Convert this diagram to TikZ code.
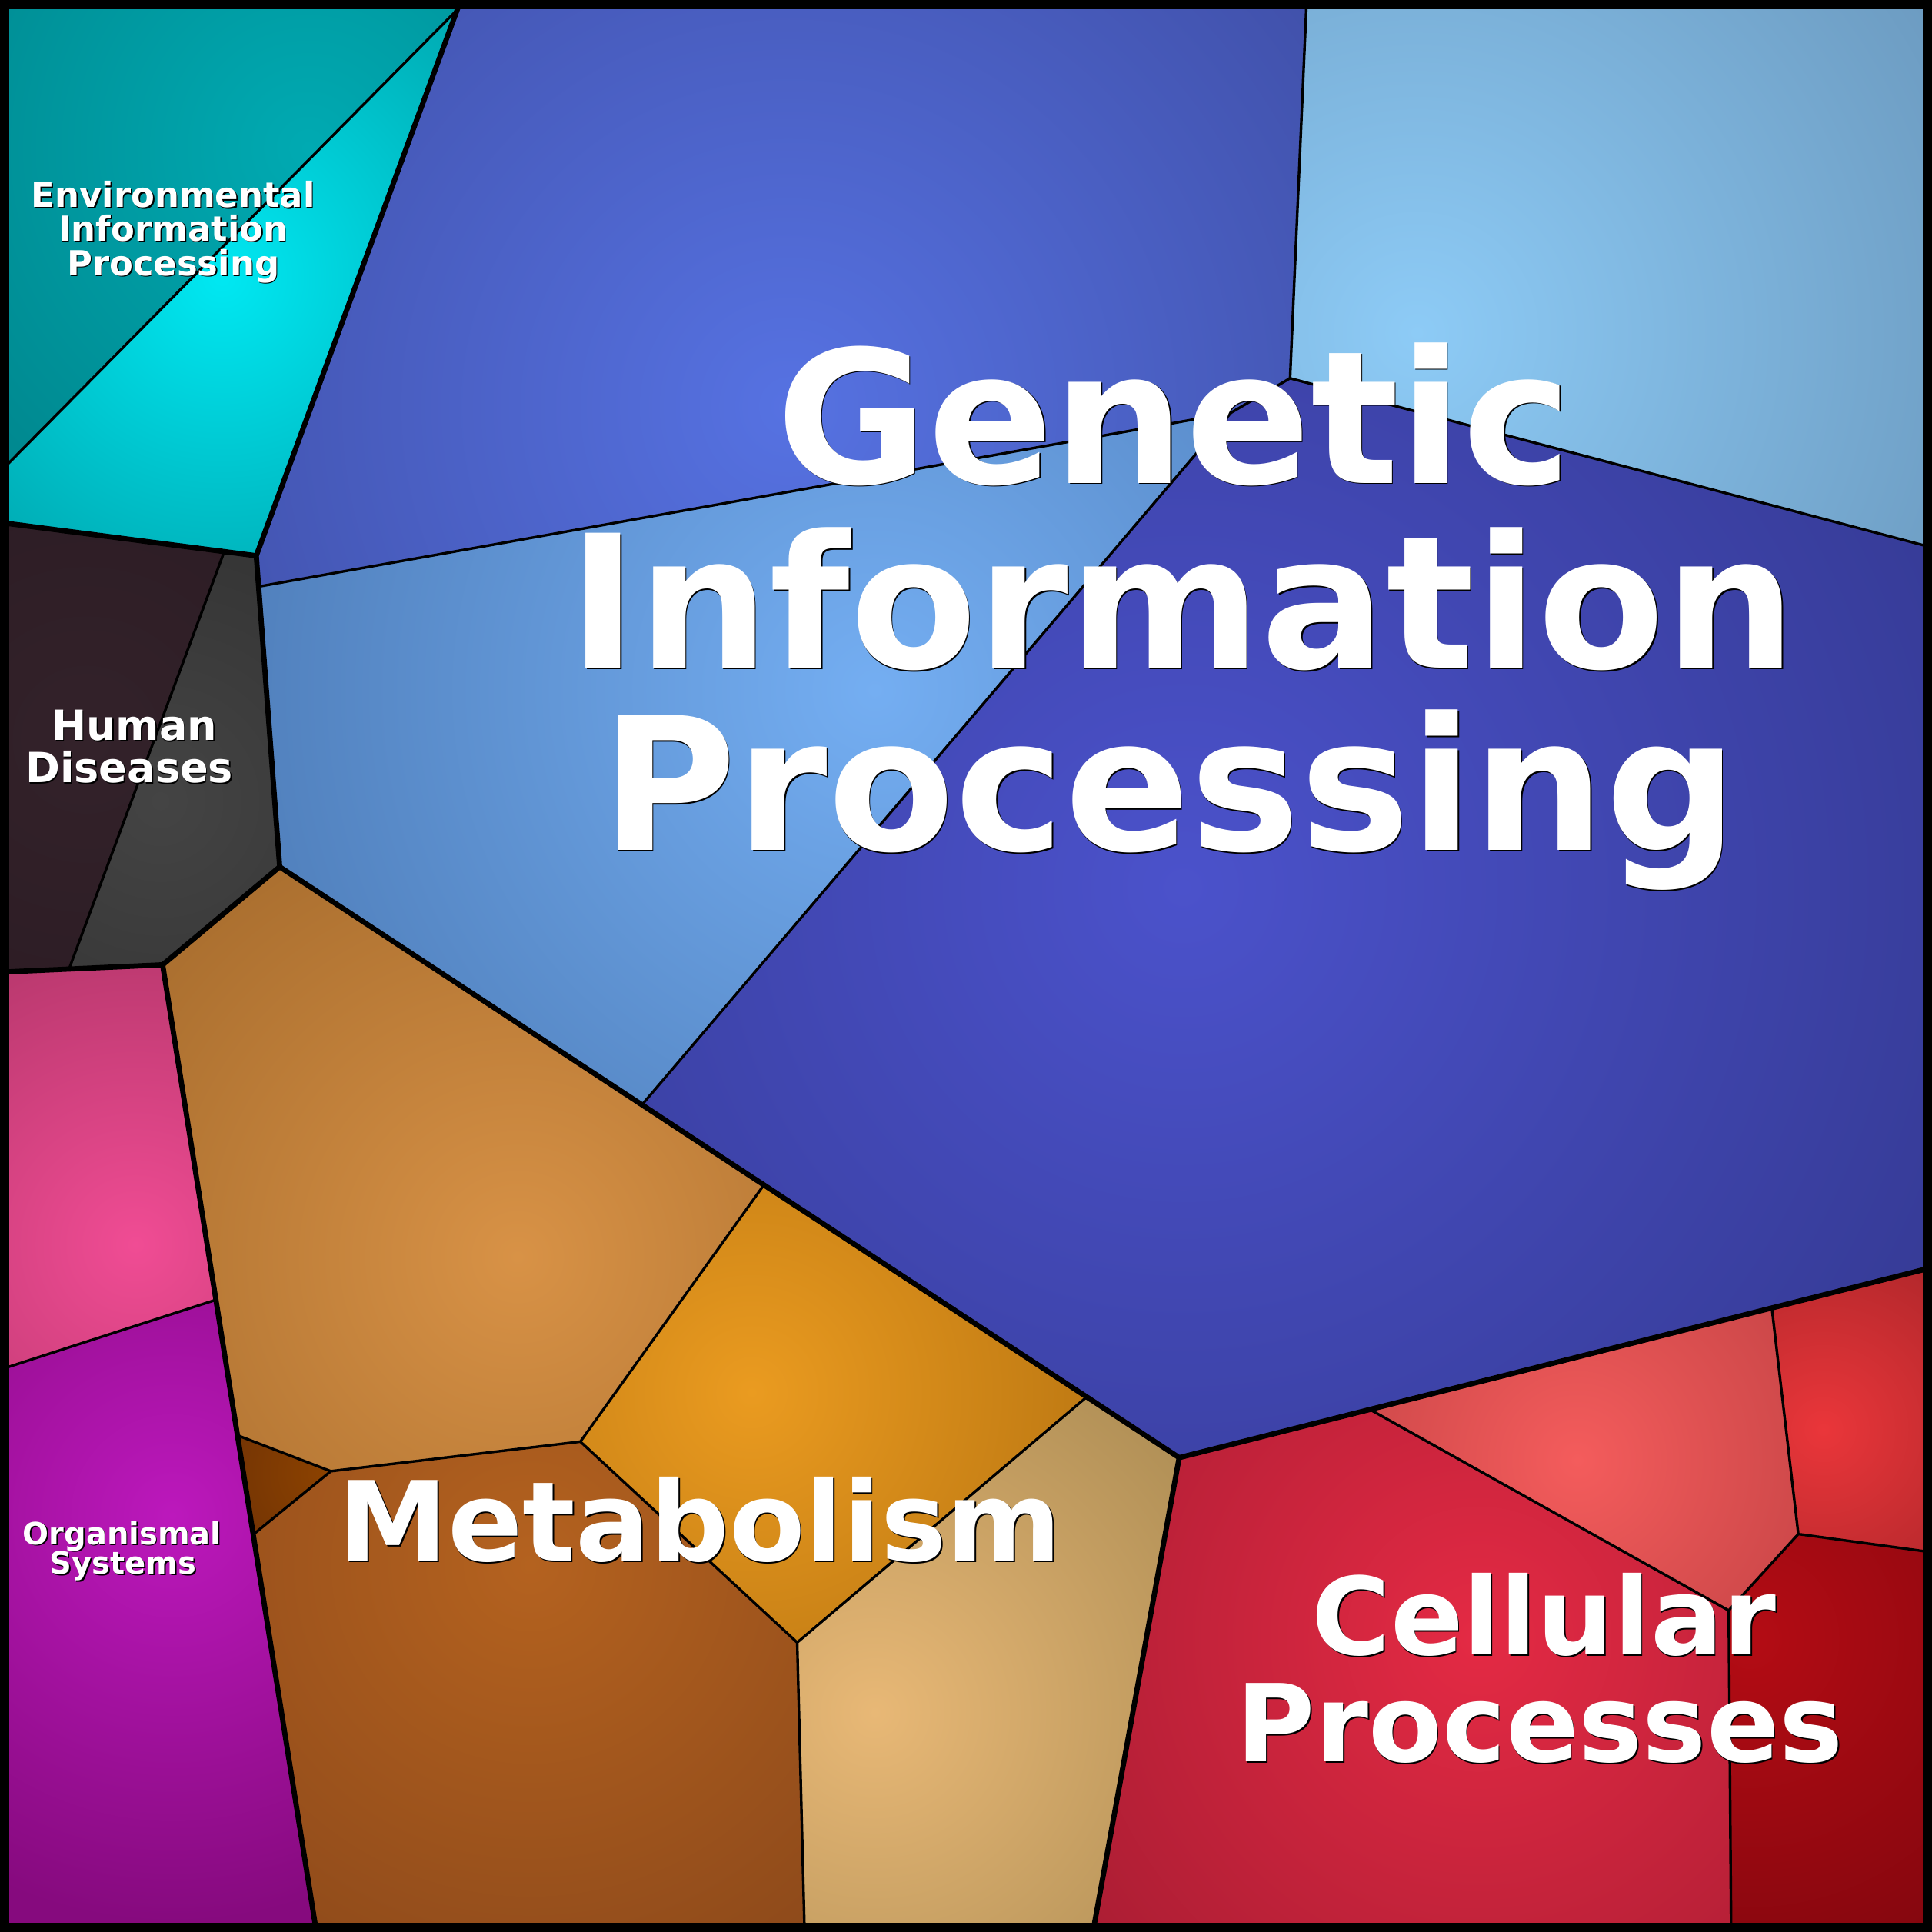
\documentclass[tikz,border=0pt]{standalone}
\usepackage{fontspec}
\newfontfamily\lblfont{DejaVu Sans}
\newcommand{\vcell}[5]{%
  \begin{scope}
    \clip #1;
    \fill[#3] #1;
    \shade[inner color=#2, outer color=#3] #4 circle (#5);
  \end{scope}}
\newcommand{\plabel}[5]{%
  \node[lblshadow, font=\lblfont\bfseries\fontsize{#4}{#4}\selectfont] (#1s) at (#2,#3) {#5};
  \node[lbltext, font=\lblfont\bfseries\fontsize{#4}{#4}\selectfont] (#1) at (#2,#3) {#5};}
\definecolor{e1i}{HTML}{00AAB2}\definecolor{e1o}{HTML}{00878E}
\definecolor{e2i}{HTML}{00E8F2}\definecolor{e2o}{HTML}{00A2AA}
\definecolor{h1i}{HTML}{33222A}\definecolor{h1o}{HTML}{2A1A22}
\definecolor{h2i}{HTML}{444444}\definecolor{h2o}{HTML}{2E2E2E}
\definecolor{g1i}{HTML}{5672E2}\definecolor{g1o}{HTML}{3F4EA6}
\definecolor{g2i}{HTML}{8DCBF6}\definecolor{g2o}{HTML}{6895BA}
\definecolor{g3i}{HTML}{74AEF2}\definecolor{g3o}{HTML}{4F7EBA}
\definecolor{g4i}{HTML}{4B52CB}\definecolor{g4o}{HTML}{353A94}
\definecolor{m1i}{HTML}{D89246}\definecolor{m1o}{HTML}{A46A2C}
\definecolor{m2i}{HTML}{EA9B20}\definecolor{m2o}{HTML}{B57210}
\definecolor{m3i}{HTML}{E8B876}\definecolor{m3o}{HTML}{A68850}
\definecolor{m4i}{HTML}{8C4200}\definecolor{m4o}{HTML}{6C3006}
\definecolor{m5i}{HTML}{B4621F}\definecolor{m5o}{HTML}{88461A}
\definecolor{o1i}{HTML}{F04C94}\definecolor{o1o}{HTML}{AE3466}
\definecolor{o2i}{HTML}{BC18BC}\definecolor{o2o}{HTML}{860A7E}
\definecolor{c1i}{HTML}{E42A44}\definecolor{c1o}{HTML}{A61C32}
\definecolor{c2i}{HTML}{F45C5C}\definecolor{c2o}{HTML}{BA3E40}
\definecolor{c3i}{HTML}{EA363A}\definecolor{c3o}{HTML}{A62428}
\definecolor{c4i}{HTML}{B40C14}\definecolor{c4o}{HTML}{82060E}
\begin{document}
\begin{tikzpicture}[x=0.01cm, y=-0.01cm,
  thinline/.style={line width=0.6pt, line join=round, line cap=round},
  thickline/.style={line width=1.2pt, line join=round, line cap=round},
  lbltext/.style={anchor=base, inner sep=0pt, text=white},
  lblshadow/.style={anchor=base, inner sep=0pt, text=black, xshift=0.3pt, yshift=-0.3pt}]
\useasboundingbox (0,0) rectangle (1568,1568);
% vertices
\coordinate (TL) at (0,0);
\coordinate (TR) at (1568,0);
\coordinate (BR) at (1568,1568);
\coordinate (BL) at (0,1568);
\coordinate (a1) at (374,0);
\coordinate (a2) at (371,8);
\coordinate (a3) at (0,383);
\coordinate (a4) at (0,424);
\coordinate (h0) at (208,451);
\coordinate (h1) at (182,447.6);
\coordinate (h2) at (227,703.5);
\coordinate (h3) at (132,783);
\coordinate (h4) at (56,786.5);
\coordinate (h5) at (0,789);
\coordinate (g1) at (1060.5,0);
\coordinate (g2) at (1047,307);
\coordinate (g3) at (999,335);
\coordinate (g4) at (210,476);
\coordinate (g5) at (1568,444.3);
\coordinate (g6) at (521,896.6);
\coordinate (g7) at (957,1183);
\coordinate (g8) at (1568,1028.7);
\coordinate (m1) at (620,961.6);
\coordinate (m2) at (882,1133.7);
\coordinate (m3) at (471,1170);
\coordinate (m4) at (268.5,1194);
\coordinate (m5) at (193,1165);
\coordinate (m6) at (206,1245);
\coordinate (m7) at (647,1333);
\coordinate (m8) at (653,1568);
\coordinate (m9) at (887,1568);
\coordinate (m10) at (256.8,1568);
\coordinate (o1) at (175,1055);
\coordinate (o2) at (0,1111.6);
\coordinate (c1) at (1112,1144);
\coordinate (c2) at (1438,1061.5);
\coordinate (c3) at (1459.5,1245);
\coordinate (c4) at (1403,1307);
\coordinate (c5) at (1405,1568);
\coordinate (c6) at (1568,1259.8);
% Environmental Information Processing
\vcell{(TL)--(a1)--(a2)--(a3)--cycle}{e1i}{e1o}{(250,120)}{3.6cm}
\vcell{(a2)--(a1)--(h0)--(a4)--(a3)--cycle}{e2i}{e2o}{(180,225)}{3.2cm}
% Human Diseases
\vcell{(a4)--(h1)--(h4)--(h5)--cycle}{h1i}{h1o}{(70,600)}{3.2cm}
\vcell{(h1)--(h0)--(h2)--(h3)--(h4)--cycle}{h2i}{h2o}{(130,650)}{3.2cm}
% Genetic Information Processing
\vcell{(a1)--(g1)--(g2)--(g3)--(g4)--(h0)--cycle}{g1i}{g1o}{(640,330)}{5.8cm}
\vcell{(g1)--(TR)--(g5)--(g2)--cycle}{g2i}{g2o}{(1150,270)}{5.6cm}
\vcell{(g4)--(g3)--(g6)--(h2)--cycle}{g3i}{g3o}{(710,560)}{5.4cm}
\vcell{(g3)--(g2)--(g5)--(g8)--(g7)--(g6)--cycle}{g4i}{g4o}{(960,720)}{7.2cm}
% Metabolism
\vcell{(h3)--(h2)--(m1)--(m3)--(m4)--(m5)--cycle}{m1i}{m1o}{(420,1020)}{4.3cm}
\vcell{(m1)--(m2)--(m7)--(m3)--cycle}{m2i}{m2o}{(610,1130)}{3.4cm}
\vcell{(m2)--(g7)--(m9)--(m8)--(m7)--cycle}{m3i}{m3o}{(710,1390)}{3.9cm}
\vcell{(m5)--(m4)--(m6)--cycle}{m4i}{m4o}{(265,1195)}{1.1cm}
\vcell{(m6)--(m4)--(m3)--(m7)--(m8)--(m10)--cycle}{m5i}{m5o}{(430,1270)}{4.3cm}
% Organismal Systems
\vcell{(h5)--(h3)--(o1)--(o2)--cycle}{o1i}{o1o}{(110,1010)}{3cm}
\vcell{(o2)--(o1)--(m10)--(BL)--cycle}{o2i}{o2o}{(140,1230)}{3.3cm}
% Cellular Processes
\vcell{(g7)--(c1)--(c4)--(c5)--(m9)--cycle}{c1i}{c1o}{(1200,1330)}{4.3cm}
\vcell{(c1)--(c2)--(c3)--(c4)--cycle}{c2i}{c2o}{(1280,1185)}{2.9cm}
\vcell{(c2)--(g8)--(c6)--(c3)--cycle}{c3i}{c3o}{(1480,1160)}{1.9cm}
\vcell{(c4)--(c3)--(c6)--(BR)--(c5)--cycle}{c4i}{c4o}{(1420,1330)}{2.9cm}
% thin boundaries
\draw[thinline] (a2) -- (a3);
\draw[thinline] (h1) -- (h4);
\draw[thinline] (g4) -- (g3) -- (g2);
\draw[thinline] (g1) -- (g2) -- (g5);
\draw[thinline] (g3) -- (g6);
\draw[thinline] (m1) -- (m3) -- (m4) -- (m5);
\draw[thinline] (m4) -- (m6);
\draw[thinline] (m3) -- (m7) -- (m2);
\draw[thinline] (m7) -- (m8);
\draw[thinline] (o2) -- (o1);
\draw[thinline] (c1) -- (c4) -- (c5);
\draw[thinline] (c2) -- (c3) -- (c6);
\draw[thinline] (c3) -- (c4);
% thick boundaries
\draw[thickline] (a1) -- (h0) -- (h2) -- (g7) -- (g8);
\draw[thickline] (a4) -- (h0);
\draw[thickline] (h2) -- (h3) -- (h5);
\draw[thickline] (h3) -- (m10);
\draw[thickline] (g7) -- (m9);
% frame
\draw[line width=0.146cm] (TL) rectangle (BR);
% labels
\plabel{env1}{140.6}{168.5}{7.97}{Environmental}
\plabel{env2}{140.6}{195.5}{7.97}{Information}
\plabel{env3}{140.6}{223.5}{7.97}{Processing}
\plabel{hum1}{109}{601}{9.6}{Human}
\plabel{hum2}{105}{635}{9.6}{Diseases}
\plabel{gen1}{953}{392}{42.7}{Genetic}
\plabel{gen2}{960}{542}{42.7}{Information}
\plabel{gen3}{949}{690}{42.7}{Processing}
\plabel{met1}{568}{1267}{25.5}{Metabolism}
\plabel{org1}{99}{1253.5}{7.1}{Organismal}
\plabel{org2}{100}{1277.5}{7.1}{Systems}
\plabel{cel1}{1253}{1343}{24.8}{Cellular}
\plabel{cel2}{1250}{1430}{24.8}{Processes}
\end{tikzpicture}
\end{document}
